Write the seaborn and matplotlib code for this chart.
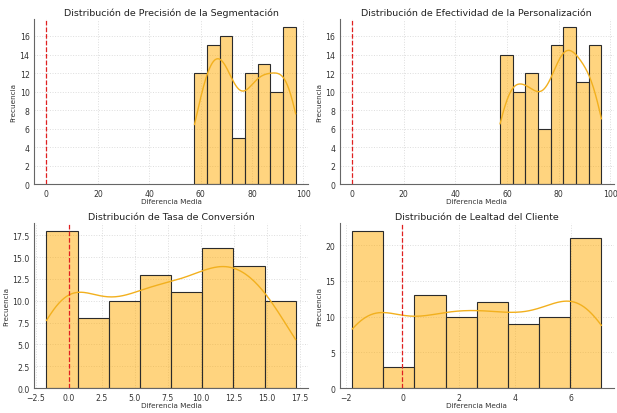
import matplotlib
matplotlib.use('Agg')
import matplotlib.pyplot as plt
import numpy as np
import pandas as pd
import seaborn as sns

sns.set_theme(style='white')
plt.rcParams['font.family'] = ['DejaVu Sans']

# bin edges and counts
titles = ['Distribución de Precisión de la Segmentación',
          'Distribución de Efectividad de la Personalización',
          'Distribución de Tasa de Conversión',
          'Distribución de Lealtad del Cliente']

precision_edges = np.linspace(57.6, 97.0, 9)
precision_counts = [12, 15, 16, 5, 12, 13, 10, 17]

efectividad_edges = np.linspace(57.3, 96.6, 9)
efectividad_counts = [14, 10, 12, 6, 15, 17, 11, 15]

conversion_edges = np.linspace(-1.68, 17.2, 9)
conversion_counts = [18, 8, 10, 13, 11, 16, 14, 10]

lealtad_edges = np.linspace(-1.79, 7.08, 9)
lealtad_counts = [22, 3, 13, 10, 12, 9, 10, 21]

panels = [(precision_edges, precision_counts),
          (efectividad_edges, efectividad_counts),
          (conversion_edges, conversion_counts),
          (lealtad_edges, lealtad_counts)]

BAR = '#FFAA00'
LINE = '#F2B01E'

fig, axes = plt.subplots(2, 2, figsize=(6.17, 4.14), dpi=100)

for ax, title, (edges, counts) in zip(axes.flat, titles, panels):
    counts = np.array(counts)
    centers = (edges[:-1] + edges[1:]) / 2
    df = pd.DataFrame({'valor': np.repeat(centers, counts)})
    # stretch the kde out to the outer bin edges like the original
    bw = len(df) ** (-1 / 5) * df['valor'].std(ddof=1)
    cut = (edges[1] - edges[0]) / 2 / bw
    sns.histplot(data=df, x='valor', bins=list(edges), kde=True, ax=ax,
                 color=BAR, alpha=0.5, edgecolor='#2b2b2b', linewidth=0.8,
                 kde_kws={'cut': float(cut)}, line_kws={'linewidth': 1.0})
    ax.lines[0].set_color(LINE)
    ax.axvline(0, color='#e02020', linestyle='--', linewidth=0.9)
    ax.set_title(title, fontsize=6.8, pad=3, color='#222222')
    ax.set_xlabel('Diferencia Media', fontsize=5.2, labelpad=0.5, color='#333333')
    ax.set_ylabel('Frecuencia', fontsize=5.2, labelpad=2, color='#333333')
    ax.tick_params(labelsize=5.6, length=2, width=0.5, pad=1.2, colors='#333333')
    ax.grid(True, color='#dddddd', linestyle=':', linewidth=0.7)
    ax.set_axisbelow(True)
    for side in ['top', 'right']:
        ax.spines[side].set_visible(False)
    for side in ['left', 'bottom']:
        ax.spines[side].set_color('#666666')
        ax.spines[side].set_linewidth(0.8)

axes[0, 0].set_yticks(np.arange(0, 17, 2))
axes[0, 1].set_yticks(np.arange(0, 17, 2))
axes[1, 0].set_yticks(np.arange(0, 18, 2.5))

fig.subplots_adjust(left=0.055, right=0.995, top=0.952, bottom=0.06,
                    hspace=0.235, wspace=0.115)
plt.savefig('out.png', dpi=100)
